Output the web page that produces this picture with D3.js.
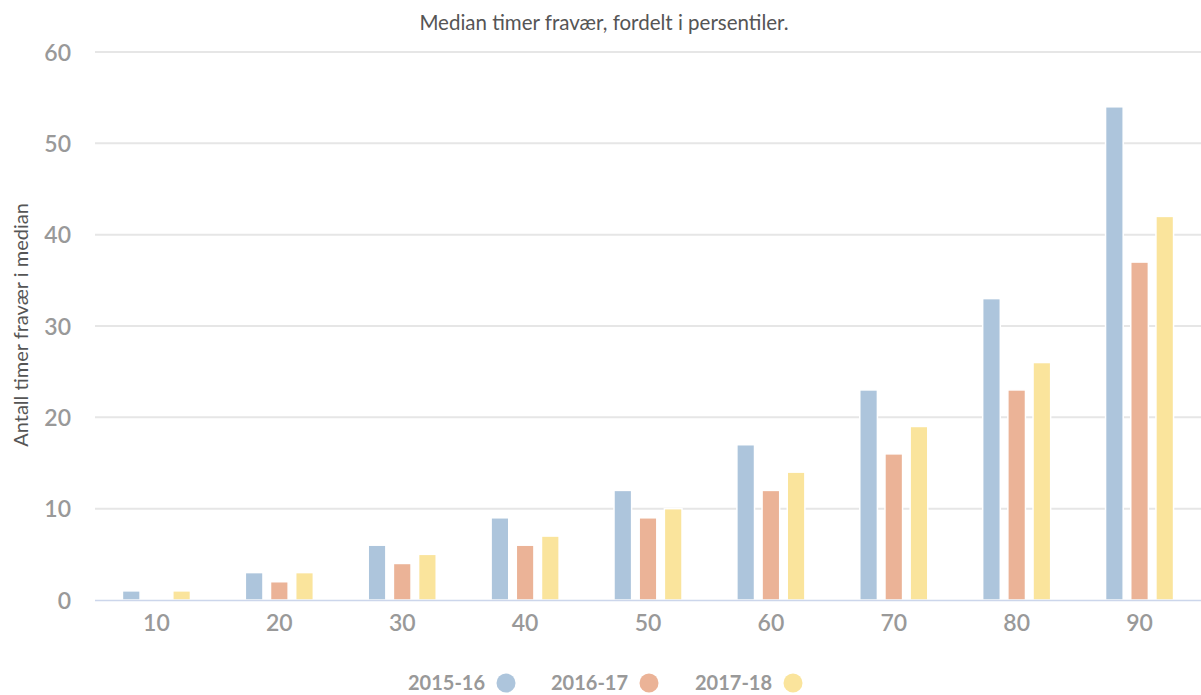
<!DOCTYPE html>
<html>
<head>
<meta charset="utf-8">
<script src="https://cdn.jsdelivr.net/npm/d3@7"></script>
<style>
    body { margin: 0; background: #fff; }
    svg { font-family: Lato, 'Open Sans', sans-serif; }
    .grid line { stroke: #e6e6e6; stroke-width: 2; }
    .axis text { fill: #999; font-family: Lato, 'Open Sans', sans-serif; font-size: 23px; font-weight: 600; }
</style>
</head>
<body>
<svg width="1201" height="695"></svg>
<script>
const categories = ['10', '20', '30', '40', '50', '60', '70', '80', '90'];
const seriesNames = ['2015-16', '2016-17', '2017-18'];
const values2015 = [1, 3, 6, 9, 12, 17, 23, 33, 54];
const values2016 = [0, 2, 4, 6, 9, 12, 16, 23, 37];
const values2017 = [1, 3, 5, 7, 10, 14, 19, 26, 42];
const yTicks = [0, 10, 20, 30, 40, 50, 60];
const colors = ['#adc5dc', '#ebb397', '#fae49c'];

const series = [values2015, values2016, values2017];

const sizes = {
    left: 95,
    right: 1201,
    top: 52,
    bottom: 600,
    group: 68,
};

var svg = d3.select('svg');

var x = d3.scaleBand()
    .domain(categories)
    .range([sizes.left, sizes.right]);

var xInner = d3.scaleBand()
    .domain(seriesNames)
    .range([0, sizes.group])
    .paddingInner(0.3);

var y = d3.scaleLinear()
    .domain([0, 60])
    .range([sizes.bottom, sizes.top]);

// GRID

svg.append('g')
    .attr('class', 'grid')
    .selectAll('line')
    .data(yTicks.slice(1))
    .join('line')
    .attr('x1', sizes.left)
    .attr('x2', sizes.right)
    .attr('y1', d => y(d))
    .attr('y2', d => y(d));

// BARS

var offset = (x.bandwidth() - sizes.group) / 2;

svg.append('g')
    .selectAll('g')
    .data(categories)
    .join('g')
    .attr('transform', c => 'translate(' + (x(c) + offset) + ',0)')
    .selectAll('rect')
    .data((c, i) => series.map((s, k) => ({ name: seriesNames[k], value: s[i], k: k })))
    .join('rect')
    .attr('x', d => xInner(d.name))
    .attr('width', xInner.bandwidth())
    .attr('y', d => y(d.value))
    .attr('height', d => y(0) - y(d.value))
    .attr('fill', d => colors[d.k])
    .attr('stroke', '#fff')
    .attr('stroke-width', 1.5);

// BASELINE

svg.append('line')
    .attr('x1', sizes.left)
    .attr('x2', sizes.right)
    .attr('y1', y(0) + 0.5)
    .attr('y2', y(0) + 0.5)
    .attr('stroke', '#ccd6eb')
    .attr('stroke-width', 1.5);

// AXES

var gx = svg.append('g')
    .attr('class', 'axis')
    .attr('transform', 'translate(0,' + sizes.bottom + ')')
    .call(d3.axisBottom(x).tickSize(0).tickPadding(15));
gx.select('.domain').remove();

var gy = svg.append('g')
    .attr('class', 'axis')
    .attr('transform', 'translate(71,0)')
    .call(d3.axisLeft(y).tickValues(yTicks).tickSize(0).tickPadding(0));
gy.select('.domain').remove();
gy.selectAll('text').attr('dy', '0.36em');

// TITLES

svg.append('text')
    .attr('x', 604)
    .attr('y', 30)
    .attr('text-anchor', 'middle')
    .attr('fill', '#555')
    .attr('font-size', 20.5)
    .attr('font-weight', 400)
    .text('Median timer fravær, fordelt i persentiler.');

svg.append('text')
    .attr('transform', 'translate(28,325) rotate(-90)')
    .attr('text-anchor', 'middle')
    .attr('fill', '#555')
    .attr('font-size', 20)
    .attr('font-weight', 400)
    .text('Antall timer fravær i median');

// LEGEND

var legendX = [408, 551, 695];

var legend = svg.append('g')
    .selectAll('g')
    .data(seriesNames)
    .join('g')
    .attr('transform', (d, i) => 'translate(' + legendX[i] + ',683)');

legend.append('text')
    .attr('y', 7)
    .attr('fill', '#999')
    .attr('font-size', 20)
    .attr('font-weight', 700)
    .text(d => d);

legend.append('circle')
    .attr('cx', 98)
    .attr('cy', 0)
    .attr('r', 9.5)
    .attr('fill', (d, i) => colors[i]);
</script>
</body>
</html>
